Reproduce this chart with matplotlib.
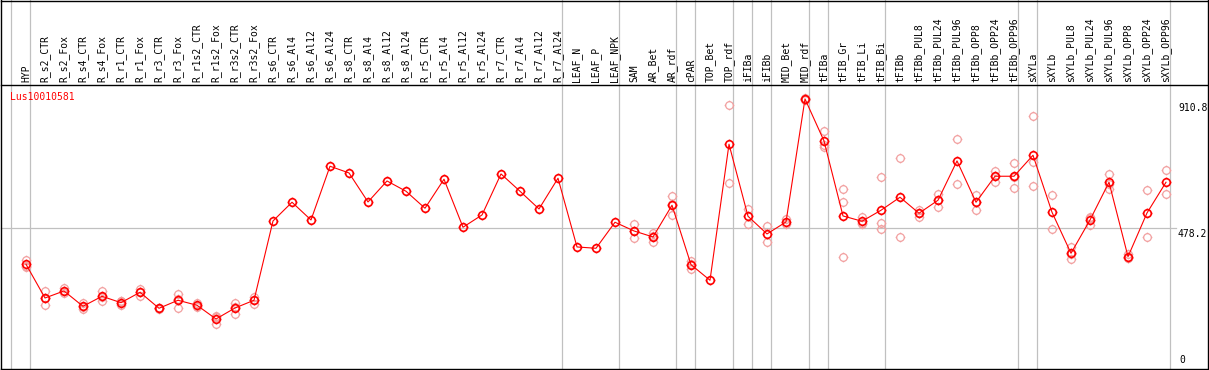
import matplotlib
matplotlib.use("Agg")
import matplotlib.pyplot as plt
import matplotlib.transforms as mtransforms
from matplotlib.path import Path
from matplotlib.lines import Line2D

# sample names shown in the header
labels = ["HYP",
          "R_s2_CTR", "R_s2_Fox", "R_s4_CTR", "R_s4_Fox", "R_r1_CTR", "R_r1_Fox",
          "R_r3_CTR", "R_r3_Fox", "R_r1s2_CTR", "R_r1s2_Fox", "R_r3s2_CTR", "R_r3s2_Fox",
          "R_s6_CTR", "R_s6_Al4", "R_s6_Al12", "R_s6_Al24",
          "R_s8_CTR", "R_s8_Al4", "R_s8_Al12", "R_s8_Al24",
          "R_r5_CTR", "R_r5_Al4", "R_r5_Al12", "R_r5_Al24",
          "R_r7_CTR", "R_r7_Al4", "R_r7_Al12", "R_r7_Al24",
          "LEAF_N", "LEAF_P", "LEAF_NPK", "SAM", "AR_Bet", "AR_rdf", "cPAR",
          "TOP_Bet", "TOP_rdf", "iFIBa", "iFIBb", "MID_Bet", "MID_rdf", "tFIBa",
          "tFIB_Gr", "tFIB_Li", "tFIB_Bi", "tFIBb",
          "tFIBb_PUL8", "tFIBb_PUL24", "tFIBb_PUL96", "tFIBb_OPP8", "tFIBb_OPP24", "tFIBb_OPP96",
          "sXYLa", "sXYLb",
          "sXYLb_PUL8", "sXYLb_PUL24", "sXYLb_PUL96", "sXYLb_OPP8", "sXYLb_OPP24", "sXYLb_OPP96"]

# mean expression per sample
means = [353.0,
         237.7, 261.7, 209.3, 243.5, 221.7, 257.2, 202.5, 229.9, 212.8, 165.9, 203.5, 229.9,
         501.1, 565.1, 504.5, 688.2, 665.3, 566.1, 637.9, 602.7,
         544.6, 643.8, 479.6, 521.6, 661.9, 602.7, 542.2, 647.2,
         412.2, 407.7, 496.7, 466.9, 446.4, 554.8, 351.6,
         298.3, 763.5, 517.2, 456.7, 497.7, 918.4, 774.8,
         518.2, 500.1, 537.7, 582.2,
         527.5, 571.9, 706.4, 565.1, 654.0, 654.0,
         725.8, 530.9,
         390.6, 504.5, 633.5, 379.0, 528.5, 633.5]

# individual replicates
reps = [[367.7, 348.6, 342.7],
        [260.6, 238.7, 213.8], [270.9, 260.4, 253.8], [219.6, 208.2, 200.1], [261.7, 242.4, 226.4],
        [226.4, 225.9, 212.8], [269.5, 256.5, 245.6], [204.5, 202.9, 200.1], [252.4, 232.8, 204.5],
        [219.6, 210.8, 208.0], [177.2, 171.7, 148.8], [219.6, 207.9, 183.0], [242.2, 230.3, 217.2],
        [], [], [], [], [], [], [], [], [], [], [], [], [], [], [], [],
        [], [], [],
        [490.9, 467.9, 441.9], [461.1, 448.8, 429.3], [585.6, 558.0, 520.6], [363.3, 353.5, 338.0],
        [], [897.9, 630.1], [543.2, 491.9], [484.0, 430.3], [506.9, 490.9], [922.0, 915.0],
        [809.0, 760.1, 755.3],
        [610.6, 565.1, 378.0], [515.8, 493.6, 490.9], [650.6, 495.3, 472.7], [715.6, 445.4],
        [538.7, 528.0, 515.8], [593.5, 572.0, 550.0], [780.6, 626.7], [590.1, 566.0, 538.7],
        [673.2, 655.0, 633.5], [698.5, 650.0, 613.0],
        [859.3, 701.9, 619.8], [589.0, 472.7],
        [413.2, 388.0, 370.1], [515.8, 510.0, 487.4], [661.9, 629.0, 609.6], [387.2, 376.0, 373.5],
        [606.1, 445.4], [674.5, 592.4]]

group_ends = [-1, 0, 28, 31, 34, 35, 37, 38, 39, 41, 42, 45, 52, 53, 60]
y_ticks = [0, 478.2, 910.8]
y_tick_labels = ["0", "478.2", "910.8"]
title = "Lus10010581"

W, H = 1209, 370
HEAD = 85.0      # header line (px from top)
BOT = 367.5      # bottom of plot (px from top)
font = "DejaVu Sans Mono"

fig = plt.figure(figsize=(W / 100, H / 100), dpi=100)
ax = fig.add_axes([1 / W, (H - BOT) / H, 1206 / W, (BOT - HEAD) / H])
ax.set_xlim(-25 / 19, 1181 / 19)
ax.set_ylim(0, 966)
ax.axis("off")

x = list(range(len(labels)))
top_ax = 1 + HEAD / (BOT - HEAD)

# group separators through header and plot
for g in group_ends:
    ax.axvline(g + 0.23, ymin=0, ymax=top_ax, color="#c0c0c0", lw=0.9,
               clip_on=False, zorder=1)
ax.plot([-25 / 19, 60.5], [478.2, 478.2], color="#c0c0c0", lw=0.9, zorder=1,
        clip_on=False)

# circle marker with small ticks
circ = Path.unit_circle()
tk = 1.28
ticks = Path([(0, 1), (0, tk), (0, -1), (0, -tk), (1, 0), (tk, 0), (-1, 0), (-tk, 0)],
             [Path.MOVETO, Path.LINETO] * 4)
mk = Path.make_compound_path(circ, ticks)

rx, ry = [], []
for i, r in enumerate(reps):
    for v in r:
        rx.append(i)
        ry.append(v)
ax.plot(rx, ry, ls="none", marker=mk, ms=7.0, mfc="none", mec="#f2a0a0",
        mew=0.9, zorder=2, clip_on=False)
ax.plot(x, means, color="red", lw=0.8, zorder=3)
ax.plot(x, means, ls="none", marker=mk, ms=7.0, mfc="none", mec="red",
        mew=1.2, zorder=4, clip_on=False)

# header labels
trans = mtransforms.blended_transform_factory(ax.transData, ax.transAxes)
for i, lab in enumerate(labels):
    ax.text(i, 1 + 2.5 / (BOT - HEAD), lab, rotation=90, ha="center", va="bottom",
            fontsize=7, family=font, transform=trans, clip_on=False)

# right-hand value labels
xt = (1178 - 26) / 19
for v, lab in zip(y_ticks, y_tick_labels):
    if v == 0:
        t = mtransforms.offset_copy(ax.transData, fig=fig, x=0, y=2.5, units="dots")
        ax.text(xt + 0.05, v, lab, ha="left", va="bottom", fontsize=7, family=font,
                transform=t)
    else:
        t = mtransforms.offset_copy(ax.transData, fig=fig, x=0, y=-1.5, units="dots")
        ax.text(xt, v, lab, ha="left", va="top", fontsize=7, family=font, transform=t)

fig.text(10 / W, 1 - 92 / H, title, color="red", fontsize=7, family=font,
         ha="left", va="top")

# frame and header rule
def px_line(x0, y0, x1, y1):
    fig.add_artist(Line2D([x0 / W, x1 / W], [1 - y0 / H, 1 - y1 / H], color="black",
                          lw=1.0, transform=fig.transFigure))

px_line(1, 0.5, 1208, 0.5)
px_line(1, HEAD, 1208, HEAD)
px_line(1, 368.5, 1208, 368.5)
px_line(1, 0, 1, 369)
px_line(1207.5, 0, 1207.5, 369)

fig.savefig("out.png", dpi=100)
